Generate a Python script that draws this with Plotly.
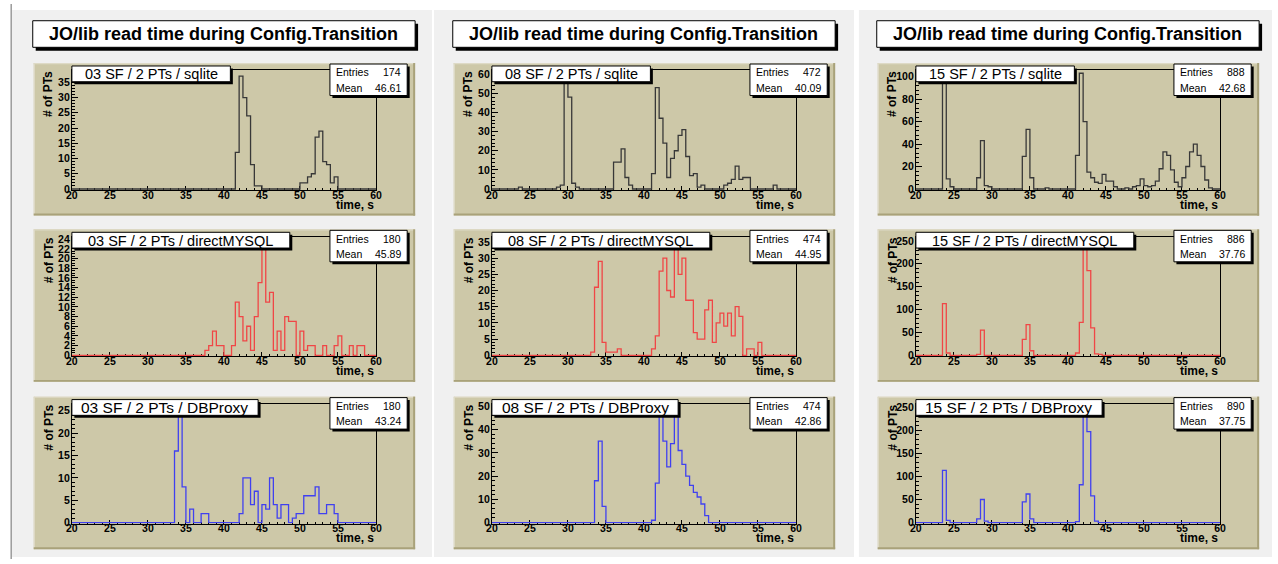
import plotly.graph_objects as go

W, H = 1278, 564

# ---------------------------------------------------------------- data
T_MIN, BIN_W = 20.0, 0.5          # histogram binning in seconds (80 bins, 20..60 s)

SETUPS = ["03 SF", "08 SF", "15 SF"]
BACKENDS = ["sqlite", "directMYSQL", "DBProxy"]
PAGE_TITLE = "JO/lib read time during Config.Transition"
X_TITLE = "time, s"
Y_TITLE = "# of PTs"

# counts per 0.5 s bin, one line of ten bins per 5 s (20-25, 25-30, ... 55-60)
sqlite_03 = [
    0, 0, 0, 0, 0, 0, 0, 0, 0, 0,
    0, 0, 0, 0, 0, 0, 0, 0, 0, 0,
    0, 0, 0, 0, 0, 0, 0, 0, 0, 0,
    0, 0, 0, 0, 0, 0, 0, 0, 0, 0,
    0, 0, 0, 12, 37, 30, 24, 8, 1, 1,
    0, 0, 0, 0, 0, 0, 0, 0, 0, 0,
    2, 2, 4, 5, 17, 19, 9, 8, 2, 4,
    0, 0, 0, 0, 0, 0, 0, 0, 0, 0,
]
mysql_03 = [
    0, 0, 0, 0, 0, 0, 0, 0, 0, 0,
    0, 0, 0, 0, 0, 0, 0, 0, 0, 0,
    0, 0, 0, 0, 0, 0, 0, 0, 0, 0,
    0, 0, 0, 0, 0, 1, 2, 5, 2, 2,
    0, 0, 2, 11, 8, 3, 6, 1, 8, 15,
    23, 11, 13, 1, 5, 1, 8, 7, 7, 0,
    5, 1, 2, 2, 0, 0, 2, 0, 0, 2,
    4, 0, 0, 2, 0, 2, 2, 0, 0, 0,
]
proxy_03 = [
    0, 0, 0, 0, 0, 0, 0, 0, 0, 0,
    0, 0, 0, 0, 0, 0, 0, 0, 0, 0,
    0, 0, 0, 0, 0, 0, 0, 16, 26, 8,
    0, 3, 0, 0, 2, 2, 0, 0, 0, 0,
    0, 0, 0, 0, 2, 10, 10, 4, 7, 0,
    4, 3, 10, 4, 1, 4, 4, 0, 1, 2,
    2, 6, 6, 6, 8, 2, 2, 4, 4, 2,
    0, 0, 0, 0, 0, 0, 0, 0, 0, 0,
]
sqlite_08 = [
    0, 0, 0, 0, 0, 0, 0, 1, 0, 0,
    0, 0, 0, 0, 0, 0, 0, 1, 2, 58,
    48, 3, 1, 0, 0, 0, 0, 0, 0, 0,
    0, 0, 14, 14, 21, 6, 2, 0, 0, 0,
    0, 0, 8, 53, 37, 24, 6, 16, 20, 28,
    31, 17, 7, 8, 1, 2, 0, 0, 0, 0,
    0, 2, 3, 5, 12, 5, 6, 6, 0, 0,
    0, 0, 0, 0, 2, 0, 0, 0, 0, 0,
]
mysql_08 = [
    0, 0, 0, 0, 0, 0, 0, 0, 0, 0,
    0, 0, 0, 0, 0, 0, 0, 0, 0, 0,
    0, 0, 0, 0, 0, 0, 1, 21, 29, 4,
    1, 1, 1, 2, 0, 0, 0, 0, 0, 0,
    0, 0, 2, 6, 26, 30, 20, 18, 85, 25,
    30, 17, 17, 7, 5, 5, 14, 17, 4, 10,
    13, 9, 13, 6, 15, 12, 0, 2, 2, 0,
    4, 0, 0, 0, 0, 0, 0, 0, 0, 0,
]
proxy_08 = [
    0, 0, 0, 0, 0, 0, 0, 0, 0, 0,
    0, 0, 0, 0, 0, 0, 0, 0, 0, 0,
    0, 0, 0, 0, 0, 0, 0, 18, 35, 7,
    0, 0, 0, 0, 0, 0, 0, 0, 0, 0,
    0, 0, 1, 17, 88, 35, 24, 34, 88, 31,
    25, 20, 16, 13, 11, 8, 3, 0, 0, 0,
    0, 0, 0, 0, 0, 0, 0, 0, 0, 0,
    0, 0, 0, 0, 0, 0, 0, 0, 0, 0,
]
sqlite_15 = [
    0, 0, 0, 0, 0, 0, 0, 110, 9, 2,
    0, 0, 0, 0, 0, 0, 10, 43, 3, 2,
    0, 0, 0, 0, 0, 0, 0, 0, 29, 53,
    10, 0, 0, 0, 1, 0, 0, 0, 0, 0,
    0, 0, 30, 103, 60, 15, 10, 6, 5, 13,
    7, 7, 2, 0, 0, 1, 0, 2, 3, 9,
    3, 2, 3, 7, 18, 33, 30, 17, 6, 2,
    10, 20, 33, 40, 30, 20, 8, 1, 0, 0,
]
mysql_15 = [
    0, 0, 0, 0, 0, 0, 0, 113, 5, 0,
    0, 0, 0, 0, 0, 0, 2, 55, 0, 0,
    0, 0, 0, 0, 0, 0, 0, 0, 35, 67,
    10, 0, 0, 0, 0, 0, 0, 0, 0, 0,
    0, 0, 5, 72, 272, 185, 60, 3, 2, 0,
    0, 0, 0, 0, 0, 0, 0, 0, 0, 0,
    0, 0, 0, 0, 0, 0, 0, 0, 0, 0,
    0, 0, 0, 0, 0, 0, 0, 0, 0, 0,
]
proxy_15 = [
    0, 0, 0, 0, 0, 0, 0, 113, 5, 0,
    0, 0, 0, 0, 0, 0, 8, 50, 3, 0,
    0, 0, 0, 0, 0, 0, 0, 0, 45, 62,
    8, 0, 0, 0, 0, 0, 0, 0, 0, 0,
    0, 0, 2, 82, 254, 197, 58, 3, 0, 0,
    0, 0, 0, 0, 0, 0, 0, 0, 0, 0,
    0, 0, 0, 0, 0, 0, 0, 0, 0, 0,
    0, 0, 0, 0, 0, 0, 0, 0, 0, 0,
]

# rows = backend, columns = setup
COUNTS = [
    [sqlite_03, sqlite_08, sqlite_15],
    [mysql_03, mysql_08, mysql_15],
    [proxy_03, proxy_08, proxy_15],
]
ENTRIES = [
    [174, 472, 888],
    [180, 474, 886],
    [180, 474, 890],
]
MEANS = [
    [46.61, 40.09, 42.68],
    [45.89, 44.95, 37.76],
    [43.24, 42.86, 37.75],
]

# ---------------------------------------------------------------- style
FONT = "Liberation Sans, Arial, Helvetica, sans-serif"
LINE_COLORS = ["#383838", "#f04646", "#4040f0"]
PAGE_BG = "#f0f0f0"
PAD_BG = "#cdc8a8"
PAD_DARK = "#a9a27a"
PAD_LIGHT = "#dedac6"

Y_TOP = [[38.9, 62.0, 105.5], [24.5, 36.6, 259.0], [26.5, 51.0, 257.0]]
Y_DTICK = [[5, 10, 20], [2, 5, 50], [5, 10, 50]]
Y_MINOR = [[1, 2, 4], [0.5, 1, 10], [1, 2, 10]]

# geometry in pixels
COL_SPAN = [(6, 430), (432, 856), (861, 1278)]
PANEL_Y = (6, 562)
PAD_X0 = [28, 452, 880]
PAD_Y0 = [60, 229, 399]
PAD_W, PAD_H = 385, 155
FRAME_DX, FRAME_W = 38.5, 307
FRAME_TOP_DY, FRAME_ZERO_DY = 7.5, 128
TBOX_W = [160, 220, 188]
TBOX_FS = [14.5, 14.5, 15.5]


def fx(x):
    return x / W


def fy(y):
    return 1 - y / H


def rect(x0, y0, x1, y1, fill, line=None, layer="above"):
    return dict(
        type="rect", xref="paper", yref="paper",
        x0=fx(x0), x1=fx(x1), y0=fy(y1), y1=fy(y0),
        fillcolor=fill, layer=layer,
        line=dict(width=0) if line is None else dict(color=line, width=1),
    )


def text(x, y, s, size, xanchor="center", yanchor="middle", bold=False, angle=0):
    return dict(
        x=fx(x), y=fy(y), xref="paper", yref="paper", text=s, showarrow=False,
        xanchor=xanchor, yanchor=yanchor, textangle=angle,
        font=dict(family=FONT, size=size, color="black",
                  weight="bold" if bold else "normal"),
    )


fig = go.Figure()
shapes, annotations = [], []
layout_axes = {}

# page columns
for c, (x0, x1) in enumerate(COL_SPAN):
    shapes.append(rect(x0, PANEL_Y[0], x1, PANEL_Y[1], PAGE_BG, layer="below"))
shapes.append(rect(4.5, 0, 6, H, "#9a9a9a", layer="below"))

for c in range(3):
    px0 = PAD_X0[c]
    # column title with drop shadow
    shapes.append(rect(px0 + 2, 20, px0 + 388, 47.5, "black"))
    shapes.append(rect(px0 - 1, 17, px0 + 385, 44, "white", line="black"))
    annotations.append(text(px0 + 192, 30.5, PAGE_TITLE, 18, bold=True))

    for r in range(3):
        py0 = PAD_Y0[r]
        k = r * 3 + c + 1
        xname = "x" if k == 1 else f"x{k}"
        yname = "y" if k == 1 else f"y{k}"

        # pad with raised border
        shapes.append(rect(px0, py0, px0 + PAD_W, py0 + PAD_H, PAD_BG, layer="below"))
        shapes.append(rect(px0, py0, px0 + PAD_W, py0 + 1.2, PAD_LIGHT, layer="below"))
        shapes.append(rect(px0, py0, px0 + 1.2, py0 + PAD_H, PAD_LIGHT, layer="below"))
        shapes.append(rect(px0 + PAD_W - 2, py0, px0 + PAD_W, py0 + PAD_H, PAD_DARK, layer="below"))
        shapes.append(rect(px0, py0 + PAD_H - 2, px0 + PAD_W, py0 + PAD_H, PAD_DARK, layer="below"))

        f_x0 = px0 + FRAME_DX
        f_x1 = f_x0 + FRAME_W
        f_top = py0 + FRAME_TOP_DY
        f_zero = py0 + FRAME_ZERO_DY
        ytop = Y_TOP[r][c]
        ybot = -ytop / 120.0
        f_bottom = f_zero + (f_zero - f_top) / 120.0

        counts = COUNTS[r][c]
        edges = [T_MIN + BIN_W * i for i in range(len(counts) + 1)]
        fig.add_trace(go.Scatter(
            x=edges, y=counts + counts[-1:], mode="lines",
            line=dict(color=LINE_COLORS[r], width=1.3, shape="hv"),
            xaxis=xname, yaxis=yname, hoverinfo="skip", showlegend=False,
        ))

        tickfont = dict(family=FONT, size=10.5, color="black", weight="bold")
        common = dict(
            showline=True, linecolor="black", linewidth=1, mirror=True,
            showgrid=False, zeroline=False, ticks="inside", tickcolor="black",
            tickwidth=1, tickfont=tickfont, layer="below traces", fixedrange=True,
        )
        layout_axes["xaxis" if k == 1 else f"xaxis{k}"] = dict(
            domain=[fx(f_x0), fx(f_x1)], anchor=yname, range=[20, 60],
            tick0=20, dtick=5, ticklen=4, ticklabelstandoff=-5,
            minor=dict(dtick=1, tick0=20, ticks="inside", ticklen=2,
                       tickcolor="black", showgrid=False),
            **common,
        )
        layout_axes["yaxis" if k == 1 else f"yaxis{k}"] = dict(
            domain=[fy(f_bottom), fy(f_top)], anchor=xname, range=[ybot, ytop],
            tick0=0, dtick=Y_DTICK[r][c], ticklen=6, ticklabelstandoff=-1,
            minor=dict(dtick=Y_MINOR[r][c], tick0=0, ticks="inside", ticklen=3,
                       tickcolor="black", showgrid=False),
            **common,
        )

        # histogram title box
        tb_y0, tb_y1 = py0 + 3, py0 + 19
        shapes.append(rect(f_x0 + 2.5, tb_y0 + 2.5, f_x0 + TBOX_W[r] + 2.5, tb_y1 + 2.5, "black"))
        shapes.append(rect(f_x0, tb_y0, f_x0 + TBOX_W[r], tb_y1, "white", line="black"))
        annotations.append(text(f_x0 + TBOX_W[r] / 2, (tb_y0 + tb_y1) / 2 + 0.5,
                                f"{SETUPS[c]} / 2 PTs / {BACKENDS[r]}", TBOX_FS[r]))

        # statistics box
        sb_x1 = px0 + PAD_W - 8
        sb_x0 = sb_x1 - 78
        sb_y0, sb_y1 = py0 + 1, py0 + 33
        shapes.append(rect(sb_x0 + 2.5, sb_y0 + 2.5, sb_x1 + 2.5, sb_y1 + 2.5, "black"))
        shapes.append(rect(sb_x0, sb_y0, sb_x1, sb_y1, "white", line="black"))
        annotations.append(text(sb_x0 + 4, py0 + 9.5, "Entries", 10.5, xanchor="left"))
        annotations.append(text(sb_x1 - 4, py0 + 9.5, f"{ENTRIES[r][c]}", 10.5, xanchor="right"))
        annotations.append(text(sb_x0 + 4, py0 + 25, "Mean", 10.5, xanchor="left"))
        annotations.append(text(sb_x1 - 4, py0 + 25, f"{MEANS[r][c]:.2f}", 10.5, xanchor="right"))

        # axis titles
        annotations.append(text(f_x1, f_zero + 16, X_TITLE, 12, xanchor="right", bold=True))
        annotations.append(text(px0 + 15, f_top - 1, Y_TITLE, 12, yanchor="top",
                                bold=True, angle=-90))

fig.update_layout(
    width=W, height=H, autosize=False,
    margin=dict(l=0, r=0, t=0, b=0, pad=0),
    paper_bgcolor="white", plot_bgcolor="rgba(0,0,0,0)",
    showlegend=False, shapes=shapes, annotations=annotations,
    **layout_axes,
)

fig.write_html("out.html", config={"displayModeBar": False},
               post_script="document.body.style.margin='0';")
